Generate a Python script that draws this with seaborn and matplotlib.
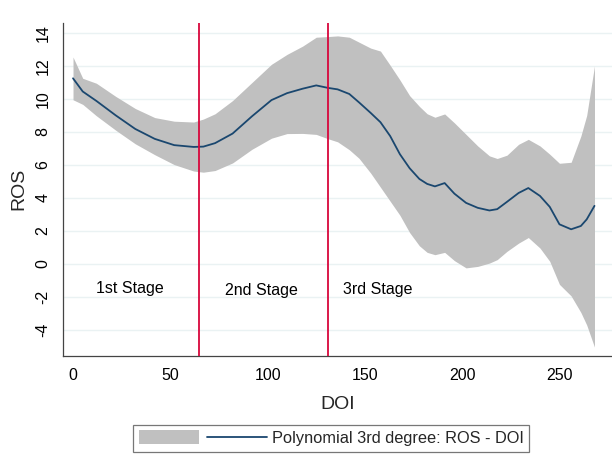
import numpy as np
import pandas as pd
import matplotlib
matplotlib.use("Agg")
import matplotlib.pyplot as plt
import seaborn as sns
from matplotlib.patches import Patch
from matplotlib.lines import Line2D

# values
doi = [0, 5, 12, 22, 32, 42, 52, 62, 67, 73, 82, 92, 102, 110, 118, 125, 131,
       136, 142, 147, 153, 158, 163, 168, 173, 178, 182, 186, 191, 196, 202,
       208, 214, 218, 223, 229, 234, 240, 245, 250, 256, 261, 264, 268]

ros_fit = [11.25, 10.45, 9.88, 9.0, 8.18, 7.58, 7.2, 7.09, 7.11, 7.32, 7.9,
           8.95, 9.93, 10.35, 10.62, 10.82, 10.67, 10.58, 10.3, 9.79, 9.15,
           8.59, 7.75, 6.65, 5.8, 5.15, 4.85, 4.7, 4.9, 4.26, 3.7, 3.4, 3.24,
           3.32, 3.76, 4.3, 4.6, 4.12, 3.46, 2.4, 2.1, 2.3, 2.7, 3.52]

ros_upper = [12.54, 11.25, 10.95, 10.15, 9.42, 8.87, 8.65, 8.6, 8.78, 9.1,
             9.9, 11.0, 12.1, 12.7, 13.2, 13.74, 13.78, 13.82, 13.74, 13.44,
             13.08, 12.9, 12.04, 11.15, 10.2, 9.55, 9.1, 8.89, 9.09, 8.55,
             7.85, 7.15, 6.55, 6.39, 6.59, 7.25, 7.55, 7.15, 6.65, 6.1, 6.16,
             7.75, 9.0, 12.0]

ros_lower = [9.95, 9.67, 8.98, 8.1, 7.28, 6.62, 6.02, 5.63, 5.56, 5.66, 6.12,
             6.95, 7.62, 7.9, 7.91, 7.85, 7.59, 7.4, 6.92, 6.4, 5.5, 4.65,
             3.8, 2.95, 1.9, 1.1, 0.7, 0.56, 0.7, 0.2, -0.24, -0.15, 0.05,
             0.26, 0.76, 1.26, 1.6, 0.96, 0.16, -1.24, -1.94, -2.94, -3.7,
             -5.04]

stage_breaks = [65, 131]
stage_labels = ["1st Stage", "2nd Stage", "3rd Stage"]
stage_x = [29.3, 97, 156.4]
stage_y = [-1.48, -1.62, -1.54]

y_ticks = [-4, -2, 0, 2, 4, 6, 8, 10, 12, 14]
x_ticks = [0, 50, 100, 150, 200, 250]

df = pd.DataFrame({"DOI": doi, "ROS": ros_fit, "lo": ros_lower, "hi": ros_upper})

sns.set_theme(style="white")
plt.rcParams["font.family"] = ["Liberation Sans", "DejaVu Sans"]

band_color = "#c0c0c0"
line_color = "#1a476f"
red = "#d8063c"

fig = plt.figure(figsize=(6.12, 4.55), dpi=100)
ax = fig.add_axes([0.1034, 0.2176, 0.8966, 0.7325])

# light horizontal gridlines
for yt in y_ticks:
    ax.axhline(yt, color="#eaf2f3", lw=1.0, zorder=0)

# confidence band + fitted line
ax.fill_between(df["DOI"], df["lo"], df["hi"], color=band_color, lw=0, zorder=1)
sns.lineplot(data=df, x="DOI", y="ROS", color=line_color, lw=1.3, ax=ax, zorder=3)

# stage separators
for xb in stage_breaks:
    ax.axvline(xb, color=red, lw=1.3, zorder=4)

for lab, sx, sy in zip(stage_labels, stage_x, stage_y):
    ax.text(sx, sy, lab, ha="center", va="center", fontsize=11.5, color="black")

ax.set_xlim(-5, 277)
ax.set_ylim(-5.58, 14.62)
ax.set_xticks(x_ticks)
ax.set_yticks(y_ticks)
ax.set_yticklabels([str(v) for v in y_ticks], rotation=90, va="center")

ax.tick_params(axis="both", which="major", length=4.3, width=0.8, color="#555555",
               labelsize=11.5, labelcolor="black", direction="out")
ax.tick_params(axis="y", pad=5)
ax.tick_params(axis="x", pad=4.5)

for side in ["top", "right"]:
    ax.spines[side].set_visible(False)
for side in ["left", "bottom"]:
    ax.spines[side].set_color("#444444")
    ax.spines[side].set_linewidth(0.9)

ax.set_xlabel("DOI", fontsize=14, labelpad=9)
ax.set_ylabel("ROS", fontsize=14, labelpad=6)

handles = [Patch(facecolor=band_color, edgecolor="none"),
           Line2D([0], [0], color=line_color, lw=1.3)]
leg = fig.legend(handles, ["", "Polynomial 3rd degree: ROS - DOI"],
                 loc="center", bbox_to_anchor=(0.541, 0.037), ncol=2,
                 fontsize=11.8, frameon=True, fancybox=False,
                 handlelength=3.66, handleheight=0.95, handletextpad=0.3,
                 columnspacing=0.2, borderpad=0.35, borderaxespad=0)
leg.get_frame().set_edgecolor("#555555")
leg.get_frame().set_linewidth(0.9)

fig.savefig("out.png", dpi=100)
